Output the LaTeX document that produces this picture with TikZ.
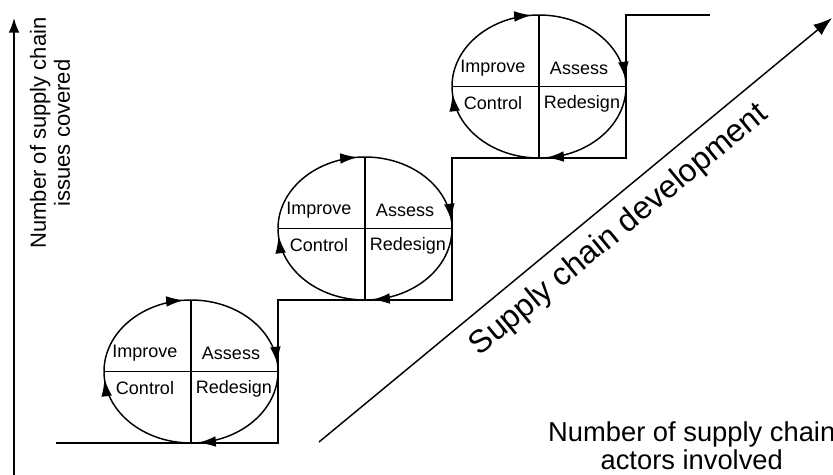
\documentclass[tikz,border=0pt]{standalone}
\usepackage{fontspec}
\setmainfont{Liberation Sans}
\usetikzlibrary{arrows.meta,shapes.geometric,decorations.markings}

\begin{document}
\begin{tikzpicture}[
  x=0.75pt,y=0.75pt,
  line width=1.1pt,
  cyc/.style={ellipse,minimum width=130.5pt,minimum height=107.25pt,inner sep=0pt,outer sep=0pt},
  quad/.style={font=\fontsize{13.5}{15}\selectfont,inner sep=1pt},
  cyclearc/.style={postaction={decorate},decoration={markings,mark=at position 0.94 with {\arrow{Latex[length=13pt,width=8pt]}}}},
  axis/.style={-{Latex[length=11pt,width=8pt]}},
  devarrow/.style={-{Latex[length=14pt,width=10pt]}},
  lbl/.style={align=center}
]
\useasboundingbox (0,0) rectangle (833,475);

\node[cyc] (c1) at (191,103.5) {};
\node[cyc] (c2) at (365,246.5) {};
\node[cyc] (c3) at (539,388.5) {};

\foreach \cy in {c1,c2,c3}{
  \foreach \a in {180,90,0,-90}
    \draw[cyclearc] (\cy) ++(\a:87 and 71.5) arc[start angle=\a,delta angle=-90,x radius=87,y radius=71.5];
  \draw (\cy.north) -- (\cy.south);
  \draw (\cy.west) -- (\cy.east);
  \node[quad] (\cy-imp) at ([shift={(-46,18)}]\cy.center) {Improve};
  \node[quad] (\cy-ass) at ([shift={(40,18)}]\cy.center) {Assess};
  \node[quad] (\cy-con) at ([shift={(-46,-17)}]\cy.center) {Control};
  \node[quad] (\cy-red) at ([shift={(43,-17)}]\cy.center) {Redesign};
}

\coordinate (stairstart) at (56,32);
\coordinate (stairend) at (710,460);
\draw (stairstart) -- (c1.south) -| (c2.west |- c2.south) -- (c2.south)
  -| (c3.west |- c3.south) -- (c3.south) -| (c3.east |- c3.north) -- (stairend);

\coordinate (yfoot) at (14,-10);
\coordinate (ytip) at (14,457);
\draw[axis] (yfoot) -- (ytip);
\node[lbl,rotate=90,font=\fontsize{16.5}{18}\selectfont] (ylab) at (50,342) {Number of supply chain\\issues covered};

\coordinate (devfoot) at (319,33);
\coordinate (devtip) at (832,457);
\draw[devarrow] (devfoot) -- node[pos=0.55,sloped,below=6pt,font=\fontsize{24}{28}\selectfont] (devlab) {Supply chain development} (devtip);

\node[lbl,anchor=west,font=\fontsize{20.5}{21}\selectfont] (xlab) at (543,29) {Number of supply chain\\actors involved};
\end{tikzpicture}
\end{document}
